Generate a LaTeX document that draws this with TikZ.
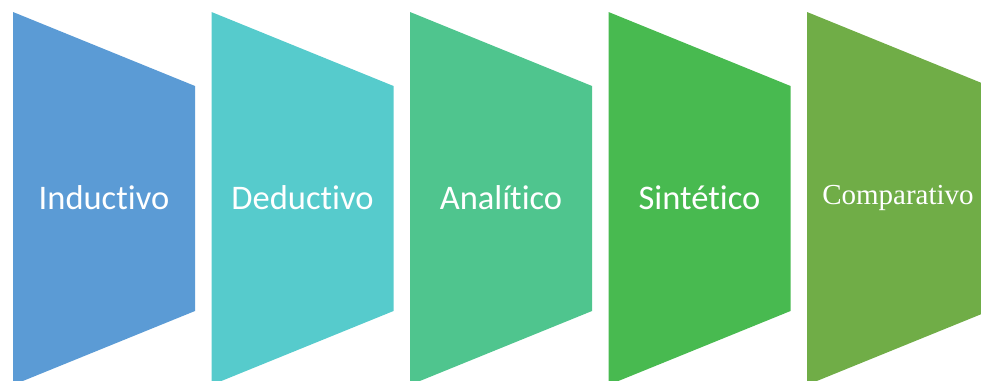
\documentclass[tikz,border=0pt]{standalone}
\usepackage{fontspec}
\setmainfont[Ligatures=NoCommon]{Carlito}
\newfontfamily\timesfont{Liberation Serif}
\usepackage{tikz}

\definecolor{stepone}{HTML}{5B9BD5}
\definecolor{steptwo}{HTML}{56CBCC}
\definecolor{stepthree}{HTML}{4FC58E}
\definecolor{stepfour}{HTML}{48BA50}
\definecolor{stepfive}{HTML}{70AD47}

\tikzset{
  label text/.style={text=white, font=\fontsize{34.5}{40}\selectfont, inner sep=0pt}
}

\begin{document}
\begin{tikzpicture}[x=1pt, y=-1pt]

\useasboundingbox (0,0) rectangle (981,380);
\clip (0,0) rectangle (981,380);

\fill[stepone] (13,12) -- (195,86) -- (195,311) -- (13,385) -- cycle;
\fill[steptwo] (211.5,12) -- (393.5,86) -- (393.5,311) -- (211.5,385) -- cycle;
\fill[stepthree] (410,12) -- (592,86) -- (592,311) -- (410,385) -- cycle;
\fill[stepfour] (608.5,12) -- (790.5,86) -- (790.5,311) -- (608.5,385) -- cycle;
\fill[stepfive] (807,12) -- (989,86) -- (989,311) -- (807,385) -- cycle;

\node[label text] (Inductivo) at (104,198) {Inductivo};
\node[label text] (Deductivo) at (302.5,198) {Deductivo};
\node[label text] (Analitico) at (501,198) {Analítico};
\node[label text] (Sintetico) at (699.5,198) {Sintético};
\node[label text, font=\timesfont\fontsize{29}{34}\selectfont] (Comparativo) at (898,198) {Comparativo};

\end{tikzpicture}
\end{document}
